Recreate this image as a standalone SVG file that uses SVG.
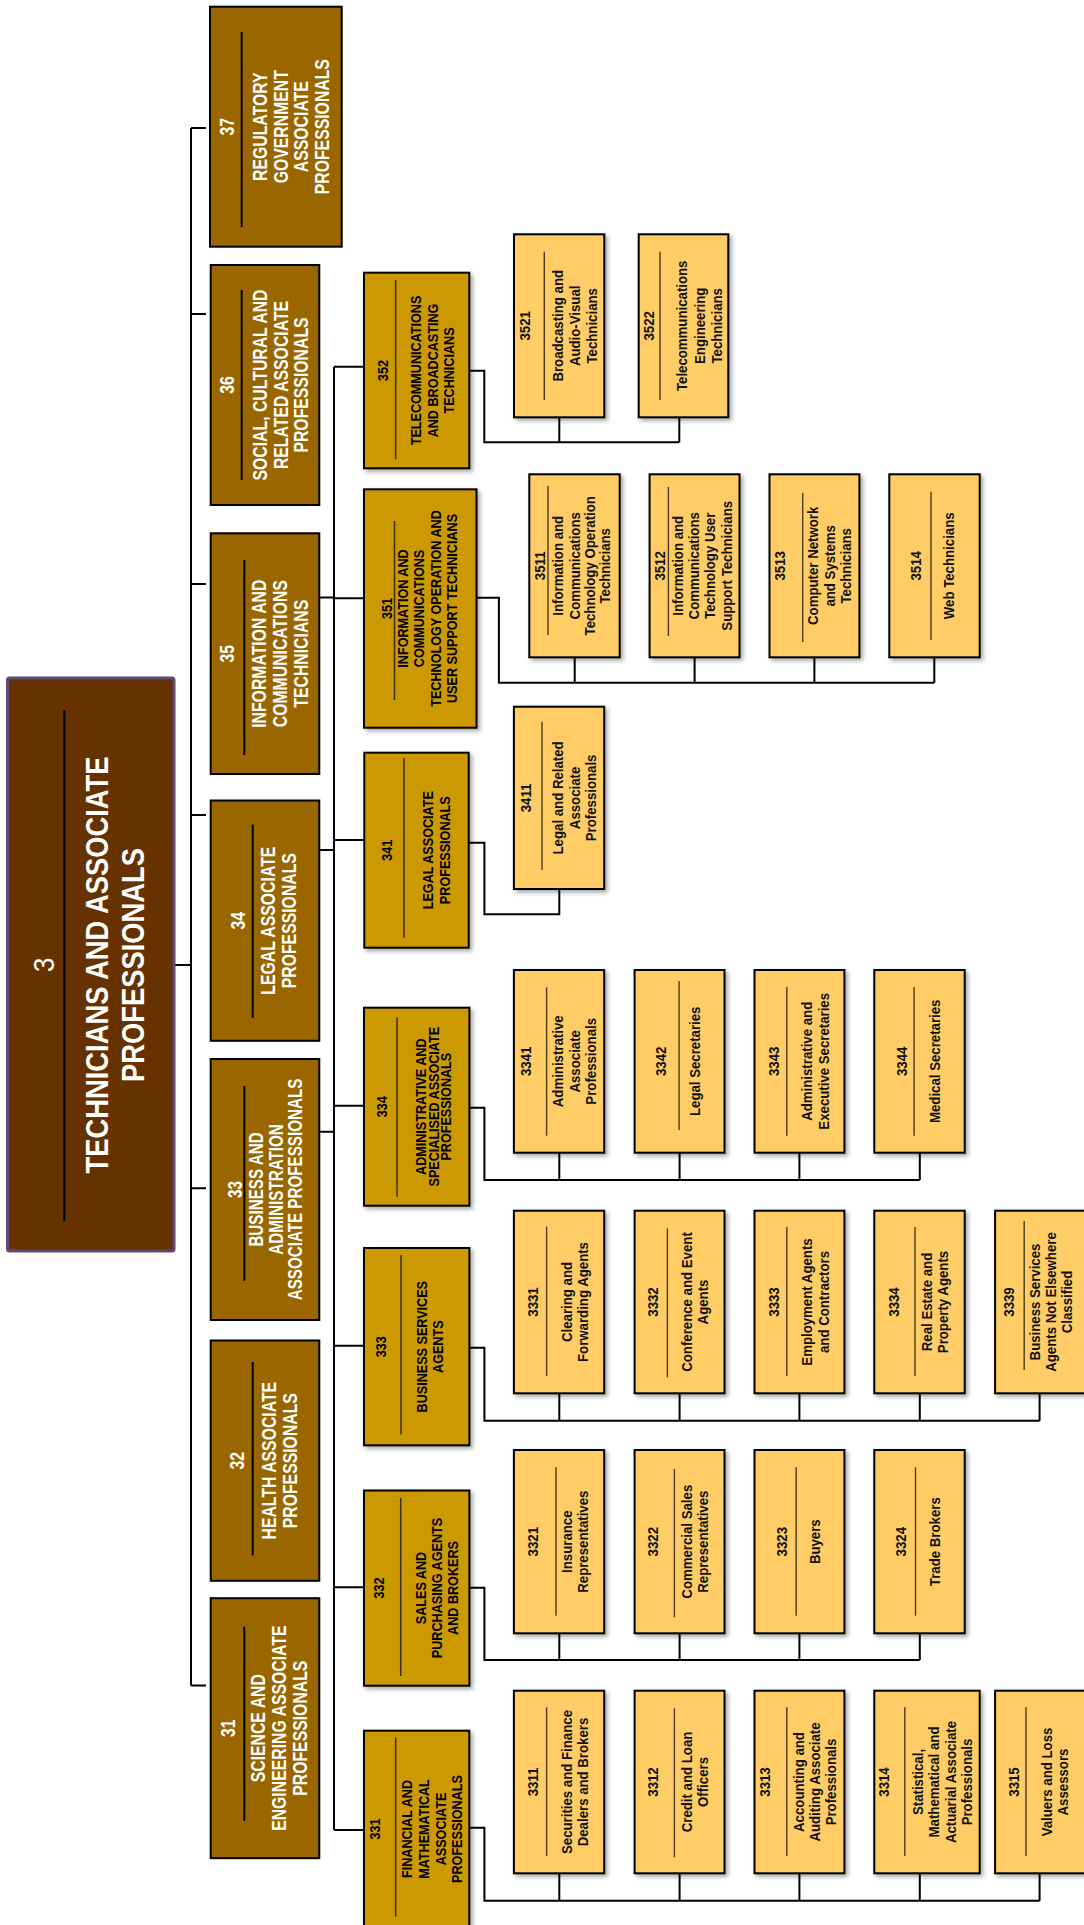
<svg xmlns="http://www.w3.org/2000/svg" width="1084" height="1925" viewBox="0 0 1084 1925">
<defs>
<filter id="sh" x="-15%" y="-10%" width="135%" height="125%">
<feDropShadow dx="2.5" dy="2.5" stdDeviation="2" flood-color="#000" flood-opacity="0.35"/>
</filter>
<style>
text{font-family:"Liberation Sans",Arial,sans-serif;font-weight:bold;text-anchor:middle}
.l0 rect{fill:#663300;stroke:#5f497a;stroke-width:3}
.l1 rect{fill:#996600;stroke:#000;stroke-width:2}
.l2 rect{fill:#cc9900;stroke:#000;stroke-width:2;filter:url(#sh)}
.l3 rect{fill:#ffcc66;stroke:#000;stroke-width:2;filter:url(#sh)}
.l0 line,.l1 line{stroke:#000;stroke-width:2}
.l2 line{stroke:#3a2d00;stroke-width:1.5}
.l3 line{stroke:#4a3b1a;stroke-width:1.4}
.l0 text{fill:#fff;font-size:32px}
.l0 text.c{font-weight:normal;font-size:30px}
.l1 text{fill:#fff;font-size:20px}
.l2 text{fill:#000;font-size:14.5px}
.l3 text{fill:#111;font-size:14px}
.conn path{fill:none;stroke:#000;stroke-width:2}
</style>
</defs>
<rect x="0" y="0" width="1084" height="1925" fill="#fff"/>

<g class="conn">
<path d="M174,965 H191 M191,128 V1685.6 M191,128 H206 M191,314 H206 M191,584 H206 M191,815 H206 M191,1188.3 H206 M191,1685.6 H206"/>
<path d="M319.3,597.5 H334 M319.3,850 H334 M319.3,1131.7 H334 M334,366.7 V1830 M334,366.7 H364 M334,598.3 H364 M334,840 H364 M334,1105.7 H364 M334,1345.7 H364 M334,1587.3 H364 M334,1830 H364"/>
<path d="M469.3,370.7 H484.3 V442.3 H679.3 M559.3,442.3 V417.3 M679.3,442.3 V417.3"/>
<path d="M476.5,597.7 H498.9 V682.7 H934.3 M574.7,682.7 V657.3 M694.6,682.7 V657.3 M814.4,682.7 V657.3 M934.3,682.7 V657.3"/>
<path d="M468.7,842.7 H484.4 V914.3 H559.3 V889"/>
<path d="M469.4,1107.7 H484.4 V1180 H919.8 M559.3,1180 V1152.7 M679.6,1180 V1152.7 M799.4,1180 V1152.7 M919.8,1180 V1152.7"/>
<path d="M469.4,1347.7 H484.4 V1420.7 H1039.6 M559.3,1420.7 V1393.3 M679.6,1420.7 V1393.3 M799.4,1420.7 V1393.3 M919.8,1420.7 V1393.3 M1039.6,1420.7 V1393.3"/>
<path d="M469.4,1587.7 H484.4 V1660 H919.8 M559.3,1660 V1633.3 M679.6,1660 V1633.3 M799.4,1660 V1633.3 M919.8,1660 V1633.3"/>
<path d="M469.4,1827.7 H484.4 V1900.7 H1039.6 M559.3,1900.7 V1873.3 M679.6,1900.7 V1873.3 M799.4,1900.7 V1873.3 M919.8,1900.7 V1873.3 M1039.6,1900.7 V1873.3"/>
</g>

<!-- root -->
<g id="n3" class="l0">
<rect x="7.5" y="678" width="166.5" height="573" rx="2"/>
<line x1="64.3" y1="710" x2="64.3" y2="1221"/>
<g transform="translate(0,965) rotate(-90) scale(0.855,1)">
<text class="c" y="54">3</text>
<text y="108.3">TECHNICIANS AND ASSOCIATE</text>
<text y="144.3">PROFESSIONALS</text>
</g>
</g>

<!-- level 1 -->
<g id="n37" class="l1">
<rect x="210" y="6.7" width="131.7" height="240"/>
<line x1="241.7" y1="32" x2="241.7" y2="227"/>
<g transform="translate(0,126.7) rotate(-90) scale(0.79,1)">
<text y="234.5">37</text><text y="267.2">REGULATORY</text><text y="287.9">GOVERNMENT</text><text y="308.2">ASSOCIATE</text><text y="329.2">PROFESSIONALS</text>
</g>
</g>
<g id="n36" class="l1">
<rect x="210.7" y="265" width="108.6" height="240"/>
<line x1="241.7" y1="290" x2="241.7" y2="480"/>
<g transform="translate(0,385) rotate(-90) scale(0.79,1)">
<text y="234.5">36</text><text y="267.5">SOCIAL, CULTURAL AND</text><text y="287.9">RELATED ASSOCIATE</text><text y="308.2">PROFESSIONALS</text>
</g>
</g>
<g id="n35" class="l1">
<rect x="210.7" y="533.3" width="108.6" height="240.7"/>
<line x1="244.3" y1="560" x2="244.3" y2="755"/>
<g transform="translate(0,653.7) rotate(-90) scale(0.79,1)">
<text y="233.9">35</text><text y="266.5">INFORMATION AND</text><text y="287.2">COMMUNICATIONS</text><text y="307.9">TECHNICIANS</text>
</g>
</g>
<g id="n34" class="l1">
<rect x="210.7" y="800.5" width="108.6" height="240.3"/>
<line x1="252.7" y1="824.6" x2="252.7" y2="1017.8"/>
<g transform="translate(0,920.7) rotate(-90) scale(0.79,1)">
<text y="245.5">34</text><text y="275.5">LEGAL ASSOCIATE</text><text y="296.5">PROFESSIONALS</text>
</g>
</g>
<g id="n33" class="l1">
<rect x="210.7" y="1059" width="108.6" height="261"/>
<line x1="244.3" y1="1086" x2="244.3" y2="1280.7"/>
<g transform="translate(0,1189.5) rotate(-90) scale(0.76,1)">
<text y="242.2">33</text><text y="263.2">BUSINESS AND</text><text y="283.2">ADMINISTRATION</text><text y="302.2">ASSOCIATE PROFESSIONALS</text>
</g>
</g>
<g id="n32" class="l1">
<rect x="210.7" y="1340.5" width="108.6" height="240.3"/>
<line x1="252.7" y1="1362" x2="252.7" y2="1555.4"/>
<g transform="translate(0,1460.7) rotate(-90) scale(0.79,1)">
<text y="244.5">32</text><text y="276.5">HEALTH ASSOCIATE</text><text y="297.2">PROFESSIONALS</text>
</g>
</g>
<g id="n31" class="l1">
<rect x="210.7" y="1598.2" width="108.6" height="260"/>
<line x1="244.3" y1="1626.6" x2="244.3" y2="1821"/>
<g transform="translate(0,1728.2) rotate(-90) scale(0.79,1)">
<text y="235.5">31</text><text y="265.2">SCIENCE AND</text><text y="286.2">ENGINEERING ASSOCIATE</text><text y="307.2">PROFESSIONALS</text>
</g>
</g>

<!-- level 2 -->
<g id="n352" class="l2">
<rect x="364" y="272.7" width="105.3" height="195.6"/>
<line x1="395.7" y1="280" x2="395.7" y2="459.3"/>
<g transform="translate(0,370.5) rotate(-90) scale(0.87,1)">
<text y="388.5">352</text><text y="420.9">TELECOMMUNICATIONS</text><text y="437.9">AND BROADCASTING</text><text y="454.2">TECHNICIANS</text>
</g>
</g>
<g id="n351" class="l2">
<rect x="364" y="489.3" width="112.5" height="238.4"/>
<line x1="394.5" y1="521" x2="394.5" y2="700"/>
<g transform="translate(0,608.5) rotate(-90) scale(0.87,1)">
<text y="392.2">351</text><text y="408.1">INFORMATION AND</text><text y="424.5">COMMUNICATIONS</text><text y="440.9">TECHNOLOGY OPERATION AND</text><text y="457.2">USER SUPPORT TECHNICIANS</text>
</g>
</g>
<g id="n341" class="l2">
<rect x="364.3" y="752.7" width="104.4" height="195"/>
<line x1="404" y1="758.3" x2="404" y2="937.7"/>
<g transform="translate(0,850.2) rotate(-90) scale(0.87,1)">
<text y="391.9">341</text><text y="433.5">LEGAL ASSOCIATE</text><text y="450.2">PROFESSIONALS</text>
</g>
</g>
<g id="n334" class="l2">
<rect x="364" y="1007.7" width="105.4" height="198"/>
<line x1="397" y1="1017.3" x2="397" y2="1196.7"/>
<g transform="translate(0,1106.7) rotate(-90) scale(0.87,1)">
<text y="387.5">334</text><text y="426.5">ADMINISTRATIVE AND</text><text y="438.7">SPECIALISED ASSOCIATE</text><text y="451">PROFESSIONALS</text>
</g>
</g>
<g id="n333" class="l2">
<rect x="364" y="1248" width="105.4" height="197.3"/>
<line x1="401" y1="1255.3" x2="401" y2="1434.4"/>
<g transform="translate(0,1346.7) rotate(-90) scale(0.87,1)">
<text y="386.2">333</text><text y="426.9">BUSINESS SERVICES</text><text y="443.5">AGENTS</text>
</g>
</g>
<g id="n332" class="l2">
<rect x="364" y="1490.5" width="105.4" height="195.2"/>
<line x1="400.7" y1="1497.8" x2="400.7" y2="1676"/>
<g transform="translate(0,1588) rotate(-90) scale(0.87,1)">
<text y="384.2">332</text><text y="425.9">SALES AND</text><text y="441.9">PURCHASING AGENTS</text><text y="458.5">AND BROKERS</text>
</g>
</g>
<g id="n331" class="l2">
<rect x="364" y="1730.7" width="105.3" height="200"/>
<line x1="395.7" y1="1737.3" x2="395.7" y2="1916.7"/>
<g transform="translate(0,1829) rotate(-90) scale(0.87,1)">
<text y="380.2">331</text><text y="412.5">FINANCIAL AND</text><text y="429.2">MATHEMATICAL</text><text y="445.9">ASSOCIATE</text><text y="462.5">PROFESSIONALS</text>
</g>
</g>

<!-- level 3 : 352 -->
<g id="n3521" class="l3">
<rect x="514" y="234.3" width="90.3" height="183"/>
<line x1="544.3" y1="251.7" x2="544.3" y2="400"/>
<g transform="translate(0,325.8) rotate(-90) scale(0.945,1)">
<text y="530">3521</text><text y="563.3">Broadcasting and</text><text y="580">Audio-Visual</text><text y="596.7">Technicians</text>
</g>
</g>
<g id="n3522" class="l3">
<rect x="638.7" y="234.3" width="89.6" height="183"/>
<line x1="660" y1="251.7" x2="660" y2="400"/>
<g transform="translate(0,325.8) rotate(-90) scale(0.945,1)">
<text y="654.3">3522</text><text y="687.3">Telecommunications</text><text y="705">Engineering</text><text y="721.7">Technicians</text>
</g>
</g>

<!-- level 3 : 351 -->
<g id="n3511" class="l3">
<rect x="529.3" y="474.3" width="90.4" height="183"/>
<line x1="548" y1="486" x2="548" y2="635"/>
<g transform="translate(0,565.8) rotate(-90) scale(0.945,1)">
<text y="544.6">3511</text><text y="563.3">Information and</text><text y="579.7">Communications</text><text y="595.2">Technology Operation</text><text y="610.2">Technicians</text>
</g>
</g>
<g id="n3512" class="l3">
<rect x="649.6" y="474.3" width="89.9" height="183"/>
<line x1="668.4" y1="487" x2="668.4" y2="636"/>
<g transform="translate(0,565.8) rotate(-90) scale(0.945,1)">
<text y="665">3512</text><text y="682.7">Information and</text><text y="699">Communications</text><text y="715.5">Technology User</text><text y="731.9">Support Technicians</text>
</g>
</g>
<g id="n3513" class="l3">
<rect x="769.5" y="474.3" width="89.9" height="183"/>
<line x1="802.7" y1="493" x2="802.7" y2="642"/>
<g transform="translate(0,565.8) rotate(-90) scale(0.945,1)">
<text y="784.8">3513</text><text y="818.5">Computer Network</text><text y="834.9">and Systems</text><text y="851.3">Technicians</text>
</g>
</g>
<g id="n3514" class="l3">
<rect x="889.3" y="474.3" width="90.4" height="183"/>
<line x1="931" y1="491.7" x2="931" y2="640"/>
<g transform="translate(0,565.8) rotate(-90) scale(0.945,1)">
<text y="921.5">3514</text><text y="954.3">Web Technicians</text>
</g>
</g>

<!-- level 3 : 341 -->
<g id="n3411" class="l3">
<rect x="513.9" y="706.7" width="90.3" height="182.3"/>
<line x1="542" y1="721.7" x2="542" y2="870"/>
<g transform="translate(0,797.9) rotate(-90) scale(0.945,1)">
<text y="530.6">3411</text><text y="563.3">Legal and Related</text><text y="579.7">Associate</text><text y="596.1">Professionals</text>
</g>
</g>

<!-- level 3 : 334 -->
<g id="n3341" class="l3">
<rect x="513.9" y="970" width="90.3" height="182.7"/>
<line x1="546.6" y1="987.3" x2="546.6" y2="1135.7"/>
<g transform="translate(0,1061.3) rotate(-90) scale(0.945,1)">
<text y="530.6">3341</text><text y="563.3">Administrative</text><text y="579.7">Associate</text><text y="596.1">Professionals</text>
</g>
</g>
<g id="n3342" class="l3">
<rect x="634.6" y="970" width="89.9" height="182.7"/>
<line x1="679.1" y1="981" x2="679.1" y2="1130"/>
<g transform="translate(0,1061.3) rotate(-90) scale(0.945,1)">
<text y="666.3">3342</text><text y="700">Legal Secretaries</text>
</g>
</g>
<g id="n3343" class="l3">
<rect x="754.5" y="970" width="89.9" height="182.7"/>
<line x1="786.8" y1="987" x2="786.8" y2="1135.7"/>
<g transform="translate(0,1061.3) rotate(-90) scale(0.945,1)">
<text y="778.7">3343</text><text y="812.4">Administrative and</text><text y="828.8">Executive Secretaries</text>
</g>
</g>
<g id="n3344" class="l3">
<rect x="874.3" y="970" width="90.4" height="182.7"/>
<line x1="914.1" y1="987" x2="914.1" y2="1135.7"/>
<g transform="translate(0,1061.3) rotate(-90) scale(0.945,1)">
<text y="907.4">3344</text><text y="940.2">Medical Secretaries</text>
</g>
</g>

<!-- level 3 : 333 -->
<g id="n3331" class="l3">
<rect x="513.9" y="1210.7" width="90.3" height="182.6"/>
<line x1="546.6" y1="1226.7" x2="546.6" y2="1376"/>
<g transform="translate(0,1302) rotate(-90) scale(0.945,1)">
<text y="538.5">3331</text><text y="571.8">Clearing and</text><text y="587.7">Forwarding Agents</text>
</g>
</g>
<g id="n3332" class="l3">
<rect x="634.6" y="1210.7" width="89.9" height="182.6"/>
<line x1="667.4" y1="1228.3" x2="667.4" y2="1377.3"/>
<g transform="translate(0,1302) rotate(-90) scale(0.945,1)">
<text y="658.4">3332</text><text y="692.1">Conference and Event</text><text y="708.5">Agents</text>
</g>
</g>
<g id="n3333" class="l3">
<rect x="754.5" y="1210.7" width="89.9" height="182.6"/>
<line x1="786.8" y1="1227" x2="786.8" y2="1376"/>
<g transform="translate(0,1302) rotate(-90) scale(0.945,1)">
<text y="778.7">3333</text><text y="812.4">Employment Agents</text><text y="828.8">and Contractors</text>
</g>
</g>
<g id="n3334" class="l3">
<rect x="874.3" y="1210.7" width="90.4" height="182.6"/>
<line x1="915" y1="1227" x2="915" y2="1376"/>
<g transform="translate(0,1302) rotate(-90) scale(0.945,1)">
<text y="899">3334</text><text y="932.2">Real Estate and</text><text y="948.2">Property Agents</text>
</g>
</g>
<g id="n3339" class="l3">
<rect x="995.1" y="1210.7" width="90" height="182.6"/>
<line x1="1024.2" y1="1221" x2="1024.2" y2="1370"/>
<g transform="translate(0,1302) rotate(-90) scale(0.945,1)">
<text y="1014.2">3339</text><text y="1039.9">Business Services</text><text y="1055.8">Agents Not Elsewhere</text><text y="1072.2">Classified</text>
</g>
</g>

<!-- level 3 : 332 -->
<g id="n3321" class="l3">
<rect x="513.9" y="1450" width="90.3" height="183.3"/>
<line x1="556" y1="1467.3" x2="556" y2="1615.7"/>
<g transform="translate(0,1541.7) rotate(-90) scale(0.945,1)">
<text y="538.5">3321</text><text y="571.8">Insurance</text><text y="587.7">Representatives</text>
</g>
</g>
<g id="n3322" class="l3">
<rect x="634.6" y="1450" width="89.9" height="183.3"/>
<line x1="674.4" y1="1469" x2="674.4" y2="1617.3"/>
<g transform="translate(0,1541.7) rotate(-90) scale(0.945,1)">
<text y="658.4">3322</text><text y="692.1">Commercial Sales</text><text y="708.5">Representatives</text>
</g>
</g>
<g id="n3323" class="l3">
<rect x="754.5" y="1450" width="89.9" height="183.3"/>
<line x1="796.2" y1="1467.3" x2="796.2" y2="1615.7"/>
<g transform="translate(0,1541.7) rotate(-90) scale(0.945,1)">
<text y="786.6">3323</text><text y="819.9">Buyers</text>
</g>
</g>
<g id="n3324" class="l3">
<rect x="874.3" y="1450" width="90.4" height="183.3"/>
<line x1="915.5" y1="1467.3" x2="915.5" y2="1615.7"/>
<g transform="translate(0,1541.7) rotate(-90) scale(0.945,1)">
<text y="906.5">3324</text><text y="940.2">Trade Brokers</text>
</g>
</g>

<!-- level 3 : 331 -->
<g id="n3311" class="l3">
<rect x="513.9" y="1690.7" width="90.3" height="182.6"/>
<line x1="546.6" y1="1707.3" x2="546.6" y2="1856"/>
<g transform="translate(0,1782) rotate(-90) scale(0.945,1)">
<text y="538.5">3311</text><text y="571.8">Securities and Finance</text><text y="587.7">Dealers and Brokers</text>
</g>
</g>
<g id="n3312" class="l3">
<rect x="634.6" y="1690.7" width="89.9" height="182.6"/>
<line x1="674.4" y1="1708.3" x2="674.4" y2="1857.3"/>
<g transform="translate(0,1782) rotate(-90) scale(0.945,1)">
<text y="658.4">3312</text><text y="692.1">Credit and Loan</text><text y="708.5">Officers</text>
</g>
</g>
<g id="n3313" class="l3">
<rect x="754.5" y="1690.7" width="89.9" height="182.6"/>
<line x1="786.8" y1="1707.3" x2="786.8" y2="1856"/>
<g transform="translate(0,1782) rotate(-90) scale(0.945,1)">
<text y="770.3">3313</text><text y="804.4">Accounting and</text><text y="819.9">Auditing Associate</text><text y="836.3">Professionals</text>
</g>
</g>
<g id="n3314" class="l3">
<rect x="874.3" y="1690.7" width="105.4" height="182.6"/>
<line x1="904.8" y1="1707.3" x2="904.8" y2="1856"/>
<g transform="translate(0,1782) rotate(-90) scale(0.945,1)">
<text y="888.7">3314</text><text y="922.9">Statistical,</text><text y="939.3">Mathematical and</text><text y="955.7">Actuarial Associate</text><text y="972">Professionals</text>
</g>
</g>
<g id="n3315" class="l3">
<rect x="995.1" y="1690.7" width="90" height="182.6"/>
<line x1="1026" y1="1707.3" x2="1026" y2="1856"/>
<g transform="translate(0,1782) rotate(-90) scale(0.945,1)">
<text y="1019">3315</text><text y="1052.3">Valuers and Loss</text><text y="1068.3">Assessors</text>
</g>
</g>
</svg>
